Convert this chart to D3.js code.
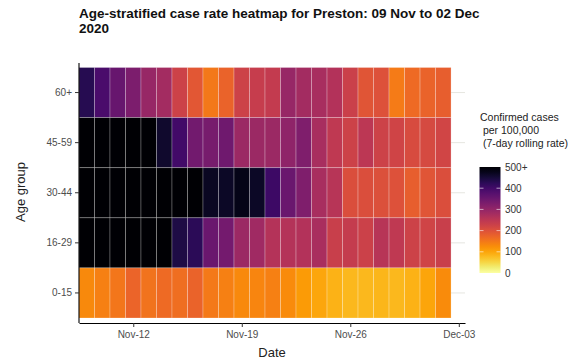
<!DOCTYPE html>
<html>
<head>
<meta charset="utf-8">
<script src="https://cdn.jsdelivr.net/npm/d3@7"></script>
<style>
  body { margin: 0; background: #fff; }
  text { font-family: "Liberation Sans", Arial, sans-serif; }
</style>
</head>
<body>
<svg id="chart" width="585" height="362"></svg>
<script>
const ageGroups = ["60+", "45-59", "30-44", "16-29", "0-15"];
const startDate = Date.UTC(2020, 10, 9);

// 7-day rolling rate per 100,000, one value per day from 09 Nov to 02 Dec (capped at 500 on the scale)
const rate60plus = [430, 390, 355, 330, 295, 280, 225, 190, 150, 175, 225, 235, 240, 295, 280, 275, 260, 230, 195, 200, 145, 165, 175, 180];
const rate45to59 = [560, 560, 560, 560, 540, 460, 400, 340, 335, 345, 290, 290, 290, 305, 325, 275, 245, 225, 250, 225, 222, 210, 212, 220];
const rate30to44 = [620, 640, 650, 650, 640, 620, 590, 540, 470, 465, 480, 465, 405, 350, 325, 275, 255, 205, 205, 202, 200, 180, 195, 205];
const rate16to29 = [600, 610, 600, 580, 560, 520, 440, 425, 350, 338, 290, 285, 258, 258, 260, 272, 232, 238, 228, 255, 245, 225, 222, 232];
const rate0to15 = [130, 140, 152, 172, 155, 165, 162, 175, 148, 140, 130, 133, 140, 128, 110, 98, 86, 82, 82, 83, 82, 86, 100, 128];

const legendBreaks = [0, 100, 200, 300, 400, 500];
const legendLabels = ["0", "100", "200", "300", "400", "500+"];
const dateTicks = [Date.UTC(2020, 10, 12), Date.UTC(2020, 10, 19), Date.UTC(2020, 10, 26), Date.UTC(2020, 11, 3)];

const series = {
  "60+": rate60plus,
  "45-59": rate45to59,
  "30-44": rate30to44,
  "16-29": rate16to29,
  "0-15": rate0to15
};

const DAY = 86400000;
const cells = [];
ageGroups.forEach(g => {
  series[g].forEach((v, i) => {
    cells.push({ group: g, date: new Date(startDate + i * DAY), value: v });
  });
});

const svg = d3.select("#chart");

const x = d3.scaleUtc()
  .domain([new Date(startDate - DAY / 2), new Date(startDate + 24.4 * DAY)])
  .range([79, 465]);

const y = d3.scaleBand()
  .domain(ageGroups)
  .range([67.5, 318]);

const color = v => d3.interpolateInferno(1 - Math.min(v, 500) / 500);

const panelTop = 63, panelBottom = 323;

// grid (only shows in the gap right of the tiles)
svg.append("g").selectAll("line")
  .data(ageGroups)
  .enter().append("line")
  .attr("x1", 79).attr("x2", 465)
  .attr("y1", d => y(d) + y.bandwidth() / 2)
  .attr("y2", d => y(d) + y.bandwidth() / 2)
  .attr("stroke", "#e6e6e0").attr("stroke-width", 1);

// tiles
svg.append("g")
  .selectAll("rect")
  .data(cells)
  .enter().append("rect")
  .attr("x", d => x(new Date(+d.date - DAY / 2)))
  .attr("width", d => x(new Date(+d.date + DAY / 2)) - x(new Date(+d.date - DAY / 2)))
  .attr("y", d => y(d.group))
  .attr("height", y.bandwidth())
  .attr("fill", d => color(d.value))
  .attr("stroke", "rgba(255,255,255,0.3)")
  .attr("stroke-width", 0.8);

// axes
const xAxis = d3.axisBottom(x)
  .tickValues(dateTicks.map(d => new Date(d)))
  .tickFormat(d3.utcFormat("%b-%d"))
  .tickSize(4)
  .tickSizeOuter(0);
const gx = svg.append("g")
  .attr("transform", `translate(0,${panelBottom})`)
  .call(xAxis);
gx.select(".domain").attr("stroke", "#000").attr("stroke-width", 1.1);
gx.selectAll(".tick line").attr("stroke", "#333");
gx.selectAll(".tick text")
  .attr("fill", "#4d4d4d").attr("font-size", "10px").attr("dy", "0.75em").attr("y", 7);

const yAxis = d3.axisLeft(y).tickSize(4).tickSizeOuter(0);
const gy = svg.append("g")
  .attr("transform", "translate(79,0)")
  .call(yAxis);
gy.select(".domain").attr("d", `M0,${panelTop}V${panelBottom}`)
  .attr("stroke", "#000").attr("stroke-width", 1.1);
gy.selectAll(".tick line").attr("stroke", "#333");
gy.selectAll(".tick text")
  .attr("fill", "#4d4d4d").attr("font-size", "10px").attr("x", -7);

// titles
const title = svg.append("text")
  .attr("x", 79).attr("y", 18)
  .attr("font-size", "13.5px").attr("font-weight", "bold").attr("fill", "#111");
title.append("tspan").attr("x", 79).text("Age-stratified case rate heatmap for Preston: 09 Nov to 02 Dec");
title.append("tspan").attr("x", 79).attr("dy", 15).text("2020");

svg.append("text")
  .attr("x", 272).attr("y", 357)
  .attr("text-anchor", "middle")
  .attr("font-size", "13px").attr("fill", "#222")
  .text("Date");

svg.append("text")
  .attr("transform", "translate(25,192) rotate(-90)")
  .attr("text-anchor", "middle")
  .attr("font-size", "13px").attr("fill", "#222")
  .text("Age group");

// legend
const legendTitle = ["Confirmed cases", " per 100,000", " (7-day rolling rate)"];
svg.append("g").selectAll("text")
  .data(legendTitle)
  .enter().append("text")
  .attr("x", 480)
  .attr("y", (d, i) => 121 + i * 13)
  .attr("font-size", "10.5px").attr("fill", "#222")
  .attr("xml:space", "preserve")
  .style("white-space", "pre")
  .text(d => d);

const legendScale = d3.scaleLinear().domain([0, 500]).range([273, 167]);
const defs = svg.append("defs");
const grad = defs.append("linearGradient")
  .attr("id", "legendGrad")
  .attr("x1", 0).attr("y1", 1).attr("x2", 0).attr("y2", 0);
d3.range(0, 1.0001, 0.05).forEach(t => {
  grad.append("stop").attr("offset", t).attr("stop-color", color(t * 500));
});
svg.append("rect")
  .attr("x", 479.5).attr("width", 21)
  .attr("y", legendScale(500)).attr("height", legendScale(0) - legendScale(500))
  .attr("fill", "url(#legendGrad)");

const lg = svg.append("g");
lg.selectAll(".ltickl")
  .data(legendBreaks.slice(1, -1))
  .enter().append("line")
  .attr("x1", 479.5).attr("x2", 483.5)
  .attr("y1", d => legendScale(d)).attr("y2", d => legendScale(d))
  .attr("stroke", "rgba(255,255,255,0.6)");
lg.selectAll(".ltickr")
  .data(legendBreaks.slice(1, -1))
  .enter().append("line")
  .attr("x1", 496.5).attr("x2", 500.5)
  .attr("y1", d => legendScale(d)).attr("y2", d => legendScale(d))
  .attr("stroke", "rgba(255,255,255,0.6)");
lg.selectAll("text")
  .data(legendBreaks)
  .enter().append("text")
  .attr("x", 505)
  .attr("y", d => legendScale(d))
  .attr("dy", "0.35em")
  .attr("font-size", "10px").attr("fill", "#333")
  .text((d, i) => legendLabels[i]);
</script>
</body>
</html>
